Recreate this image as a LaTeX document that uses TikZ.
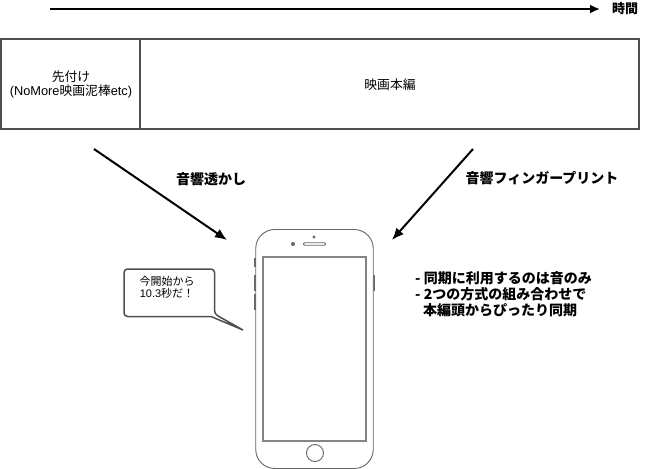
\documentclass[tikz,border=0pt]{standalone}
\usepackage{fontspec}
\setmainfont{Liberation Sans}
\newfontfamily\jp{Noto Sans CJK JP}
\usetikzlibrary{arrows.meta}
\definecolor{lineGray}{HTML}{505050}
\definecolor{phoneGray}{HTML}{666666}
\tikzset{
	plainLabel/.style={align=center, inner sep=0pt, font=\fontsize{12.8}{14}\selectfont},
	boldLabel/.style={inner sep=0pt, font=\jp\bfseries\fontsize{14}{16}\selectfont},
	blockBox/.style={rectangle, draw=lineGray, line width=2pt},
	bigArrow/.style={-{Latex[length=12pt, width=10pt]}, line width=2pt},
	phoneLine/.style={draw=phoneGray, line width=0.9pt},
	phoneKey/.style={rectangle, fill=phoneGray, minimum width=2.4pt, inner sep=0pt}
}
\begin{document}
\begin{tikzpicture}[x=1pt, y=-1pt]
	\useasboundingbox (0,0) rectangle (646,469);
	\coordinate (timeStart) at (50,9);
	\coordinate (timeEnd) at (600,9);
	\node[boldLabel, font=\jp\bfseries\fontsize{13}{13}\selectfont](timeLabel) at (625,9){時間};
	\draw[-{Latex[length=10pt, width=9pt]}, line width=2pt] (timeStart) -- (timeEnd);

	\node[blockBox, minimum width=139pt, minimum height=90pt](openingBox) at (70.5,84){};
	\node[blockBox, minimum width=499pt, minimum height=90pt](movieBox) at (389.5,84){};
	\node[plainLabel](openingLabel) at (71,84){{\jp 先付け}\\(NoMore{\jp 映画泥棒}etc)};
	\node[plainLabel](movieLabel) at (390,85){\jp 映画本編};

	\coordinate (leftStart) at (94,149);
	\coordinate (leftEnd) at (227,240);
	\coordinate (rightStart) at (473,149);
	\coordinate (rightEnd) at (392,240);
	\draw[bigArrow] (leftStart) -- (leftEnd);
	\draw[bigArrow] (rightStart) -- (rightEnd);
	\node[boldLabel](leftLabel) at (211,179){音響透かし};
	\node[boldLabel](rightLabel) at (542,178){音響フィンガープリント};

	\node[phoneKey, minimum height=9pt](keyA) at (255,262){};
	\node[phoneKey, minimum height=16pt](keyB) at (255,283){};
	\node[phoneKey, minimum height=16pt](keyC) at (255,302){};
	\node[phoneKey, minimum height=16pt](keyD) at (373.5,283){};
	\node[rectangle, rounded corners=19pt, phoneLine, fill=white, minimum width=117.5pt, minimum height=239pt](phoneBody) at (314.5,349){};
	\node[rectangle, draw=phoneGray!80, line width=1.2pt, minimum width=103pt, minimum height=184pt](phoneScreen) at (314.5,349){};
	\node[circle, phoneLine, minimum size=17pt, inner sep=0pt](homeButton) at (315,453){};
	\node[rectangle, rounded corners=1pt, phoneLine, minimum width=22pt, minimum height=2.5pt, inner sep=0pt](phoneSpeaker) at (314.5,244){};
	\node[circle, fill=phoneGray, minimum size=4pt, inner sep=0pt](phoneCamera) at (293,244){};
	\node[circle, phoneLine, minimum size=2pt, inner sep=0pt](phoneSensor) at (314,237){};

	\coordinate (tailTip) at (243,330);
	\draw[draw=lineGray, line width=1.5pt, fill=white, rounded corners=3.5pt] (124,269) -- (214.5,269) -- (214.5,314) [sharp corners] -- (tailTip) -- (211,316.5) [rounded corners=3.5pt] -- (124,316.5) -- cycle;
	\node[plainLabel, font=\fontsize{11}{12}\selectfont](bubbleLabel) at (167,287){\jp 今開始から\\10.3{\jp 秒だ！}};

	\node[boldLabel, anchor=north west, align=left](noteLabel) at (415,271){- 同期に利用するのは音のみ\\- 2つの方式の組み合わせで\\\hspace{8pt}本編頭からぴったり同期};
\end{tikzpicture}
\end{document}
